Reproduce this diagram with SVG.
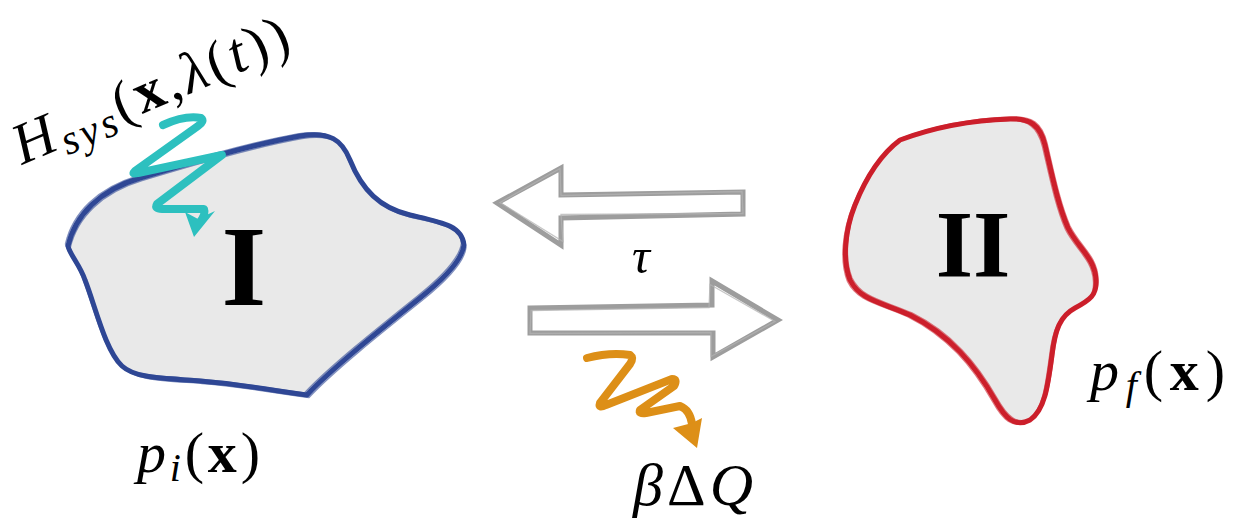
<svg xmlns="http://www.w3.org/2000/svg" width="1238" height="523" viewBox="0 0 1238 523">
<style>
.math{font-family:"Liberation Serif","DejaVu Serif",serif;fill:#000}
.it{font-style:italic}
.bf{font-weight:bold}
.blob{fill:#e9e9e9;stroke-width:5;stroke-linejoin:round}
.sk{fill:none;stroke-width:1.4;opacity:0.6}
.arr{fill:#fff;stroke:#9d9d9d;stroke-width:5;stroke-linejoin:miter}
.arrsk{fill:none;stroke:#b3b3b3;stroke-width:1.3;opacity:0.75}
.sq{fill:none;stroke-width:8;stroke-linecap:round;stroke-linejoin:round}
</style>
<defs>
<path id="pI" d="M 68,246 C 75,215 100,190 140,178 C 190,163 250,145 300,136 C 330,131 342,140 350,160 C 362,190 380,208 410,215 C 440,222 462,225 464,245 C 462,262 440,282 420,298 C 380,330 330,370 307,395 C 280,392 250,385 200,381 C 160,378 135,378 122,366 C 105,350 95,305 85,280 C 80,265 70,255 68,246 Z"/>
<path id="pII" d="M 900,140 C 940,125 980,120 1010,119 C 1030,118 1040,125 1045,145 C 1052,175 1058,205 1068,228 C 1078,248 1095,258 1096,280 C 1097,295 1090,300 1075,308 C 1060,316 1055,330 1052,355 C 1048,385 1045,410 1030,420 C 1015,428 1005,418 995,400 C 975,365 950,335 910,315 C 880,302 860,300 850,280 C 842,260 845,230 855,205 C 865,180 880,155 900,140 Z"/>
</defs>

<g id="node-I">
<use href="#pI" class="blob" stroke="#2f4795"/>
<use href="#pI" class="sk" stroke="#2f4795" transform="translate(-2.5,-2)"/>
<use href="#pI" class="sk" stroke="#2f4795" transform="translate(2,2.5)"/>
<text class="math bf" x="244" y="305" font-size="115" text-anchor="middle">I</text>
<text class="math" x="137" y="472" font-size="58" textLength="123" lengthAdjust="spacing"><tspan class="it">p</tspan><tspan class="it" font-size="40" dy="9">i</tspan><tspan dy="-9">(</tspan><tspan class="bf">x</tspan>)</text>
</g>

<g id="node-II">
<use href="#pII" class="blob" stroke="#cc1f2b"/>
<use href="#pII" class="sk" stroke="#cc1f2b" transform="translate(-2.5,1.5)"/>
<use href="#pII" class="sk" stroke="#cc1f2b" transform="translate(2,-2)"/>
<text class="math bf" x="973" y="277" font-size="96" text-anchor="middle">II</text>
<text class="math" x="1090" y="390" font-size="58" textLength="135" lengthAdjust="spacing"><tspan class="it">p</tspan><tspan class="it" font-size="40" dy="9">f</tspan><tspan dy="-9">(</tspan><tspan class="bf">x</tspan>)</text>
</g>

<g id="hamiltonian">
<text class="math" x="22" y="165" font-size="58" transform="rotate(-23 22 165)" textLength="295" lengthAdjust="spacing"><tspan class="it">H</tspan><tspan class="it" font-size="42" dy="9">sys</tspan><tspan dy="-9">(</tspan><tspan class="bf">x</tspan>,<tspan class="it">λ</tspan>(<tspan class="it">t</tspan>))</text>
<path class="sq" stroke="#2dc0bf" d="M163,125 Q185,115 201,118 Q205,121 198,126 L135,171 Q131,175 138,173 L222,155 L157,204 Q154,209 162,209 L204,209 Q206,214 200,222"/>
<polygon fill="#2dc0bf" points="185,212 198,219 215,211 194,237"/>
</g>

<g id="connectors">
<polygon class="arr" points="497,203 561,168 561,195 743,192 743,214 561,218 561,245"/>
<polygon class="arrsk" points="499,204 559,170 560,197 741,193 742,215 560,216 562,243" transform="translate(1,-1.5)"/>
<polygon class="arr" points="530,308 712,305 712,281 778,320 713,357 713,333 530,333"/>
<polygon class="arrsk" points="532,309 710,306 711,283 776,320 712,355 712,331 531,332" transform="translate(-1,1.5)"/>
<text class="math it" x="641" y="273" font-size="50" text-anchor="middle">τ</text>
</g>

<g id="heat">
<path class="sq" stroke="#dd8f17" d="M587,358 Q610,352 630,355 Q634,358 630,364 L600,403 Q598,409 606,405 L672,379 Q678,379 674,386 L640,410 Q638,414 646,413 L680,406 Q690,410 692,424"/>
<polygon fill="#dd8f17" points="673,428 692,423 702,418 697,448"/>
<text class="math" x="633" y="505" font-size="60" textLength="120" lengthAdjust="spacing"><tspan class="it">β</tspan>Δ<tspan class="it">Q</tspan></text>
</g>
</svg>
